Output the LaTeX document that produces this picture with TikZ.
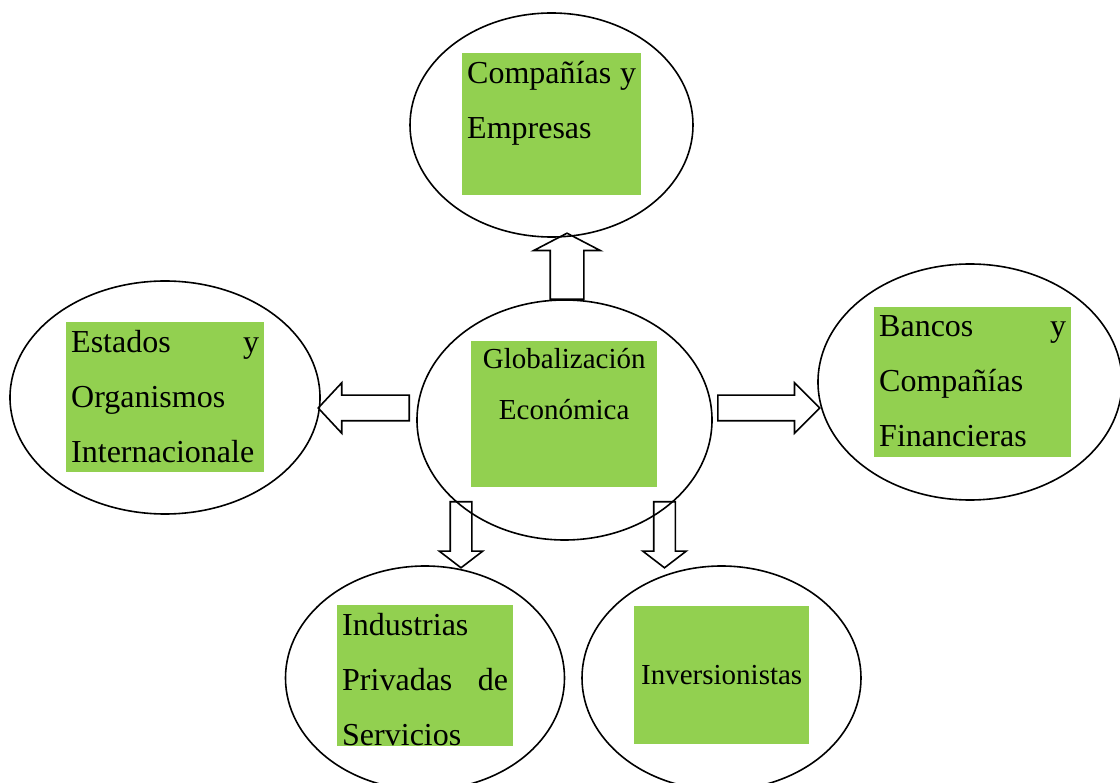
\documentclass[tikz,border=0pt]{standalone}
\usepackage{fontspec}
\setmainfont{Liberation Serif}
\usetikzlibrary{shapes.geometric,shapes.arrows}
\definecolor{leaf}{HTML}{92D050}
% width, height, first line height, text
\newcommand{\boxtext}[4]{\parbox[t][#2pt][t]{#1pt}{\rule{0pt}{#3pt}#4}}

\begin{document}
\begin{tikzpicture}[x=1pt,y=-1pt,
    bubble/.style = {ellipse, draw, line width=1.6pt, inner sep=0pt},
    greenbox/.style = {fill=leaf, anchor=north west, inner xsep=5pt, inner ysep=0pt,
        font=\fontsize{32}{55}\selectfont},
    smallbox/.style = {fill=leaf, anchor=north west, inner sep=0pt,
        font=\fontsize{29}{51}\selectfont},
    fatarrow/.style = {single arrow, draw, fill=white, line width=1.6pt, inner xsep=0pt,
        single arrow head indent=0pt, pos=0, anchor=tail, sloped, allow upside down}]
        \useasboundingbox (0,0) rectangle (1120,783);
        %Arrows
        \coordinate (uptail) at (567,300);
        \coordinate (uptip) at (567,234);
        \path (uptail) -- (uptip)
        node[fatarrow, minimum height=66pt, inner ysep=16pt,
            single arrow head extend=16.5pt, single arrow tip angle=125] (tocomp) {};
        \coordinate (lefttail) at (410,408);
        \coordinate (lefttip) at (319,408);
        \path (lefttail) -- (lefttip)
        node[fatarrow, minimum height=91pt, inner ysep=12pt,
            single arrow head extend=12.5pt, single arrow tip angle=94] (toest) {};
        \coordinate (righttail) at (717,408);
        \coordinate (righttip) at (819,408);
        \path (righttail) -- (righttip)
        node[fatarrow, minimum height=102pt, inner ysep=12pt,
            single arrow head extend=12.5pt, single arrow tip angle=90] (tobanc) {};
        \coordinate (downltail) at (461,501);
        \coordinate (downltip) at (461,567);
        \path (downltail) -- (downltip)
        node[fatarrow, minimum height=66pt, inner ysep=10pt,
            single arrow head extend=11pt, single arrow tip angle=105] (toind) {};
        \coordinate (downrtail) at (664.5,501);
        \coordinate (downrtip) at (664.5,567);
        \path (downrtail) -- (downrtip)
        node[fatarrow, minimum height=66pt, inner ysep=10pt,
            single arrow head extend=11pt, single arrow tip angle=105] (toinv) {};
        %Ellipses
        \node[bubble, minimum width=283pt, minimum height=224pt] (comp) at (551.5,125) {};
        \node[bubble, minimum width=310pt, minimum height=233pt] (est) at (165,397.5) {};
        \node[bubble, minimum width=295pt, minimum height=240pt] (glob) at (564.5,420) {};
        \node[bubble, minimum width=304pt, minimum height=236pt] (banc) at (970,382) {};
        \node[bubble, minimum width=279pt, minimum height=224pt] (ind) at (425,678) {};
        \node[bubble, minimum width=279pt, minimum height=224pt] (inv) at (721.5,678) {};
        %Green boxes
        \node[greenbox] (compbox) at (462,53)
        {\boxtext{169}{142}{30}{Compañías\hfill y\\Empresas}};
        \node[greenbox] (estbox) at (66,322)
        {\boxtext{188}{150}{30}{Estados\hfill y\\Organismos\\Internacionale}};
        \node[smallbox] (globbox) at (471,341)
        {\boxtext{186}{146}{27}{\centering Globalización\\Económica}};
        \node[greenbox] (bancbox) at (874,307)
        {\boxtext{187}{150}{29}{Bancos\hfill y\\Compañías\\Financieras}};
        \node[greenbox] (indbox) at (337,605)
        {\boxtext{166}{141}{30}{Industrias\\Privadas\hfill de\\Servicios}};
        \node[smallbox, minimum width=175pt, minimum height=138pt] (invbox) at (634,606)
        {Inversionistas};
\end{tikzpicture}
\end{document}
